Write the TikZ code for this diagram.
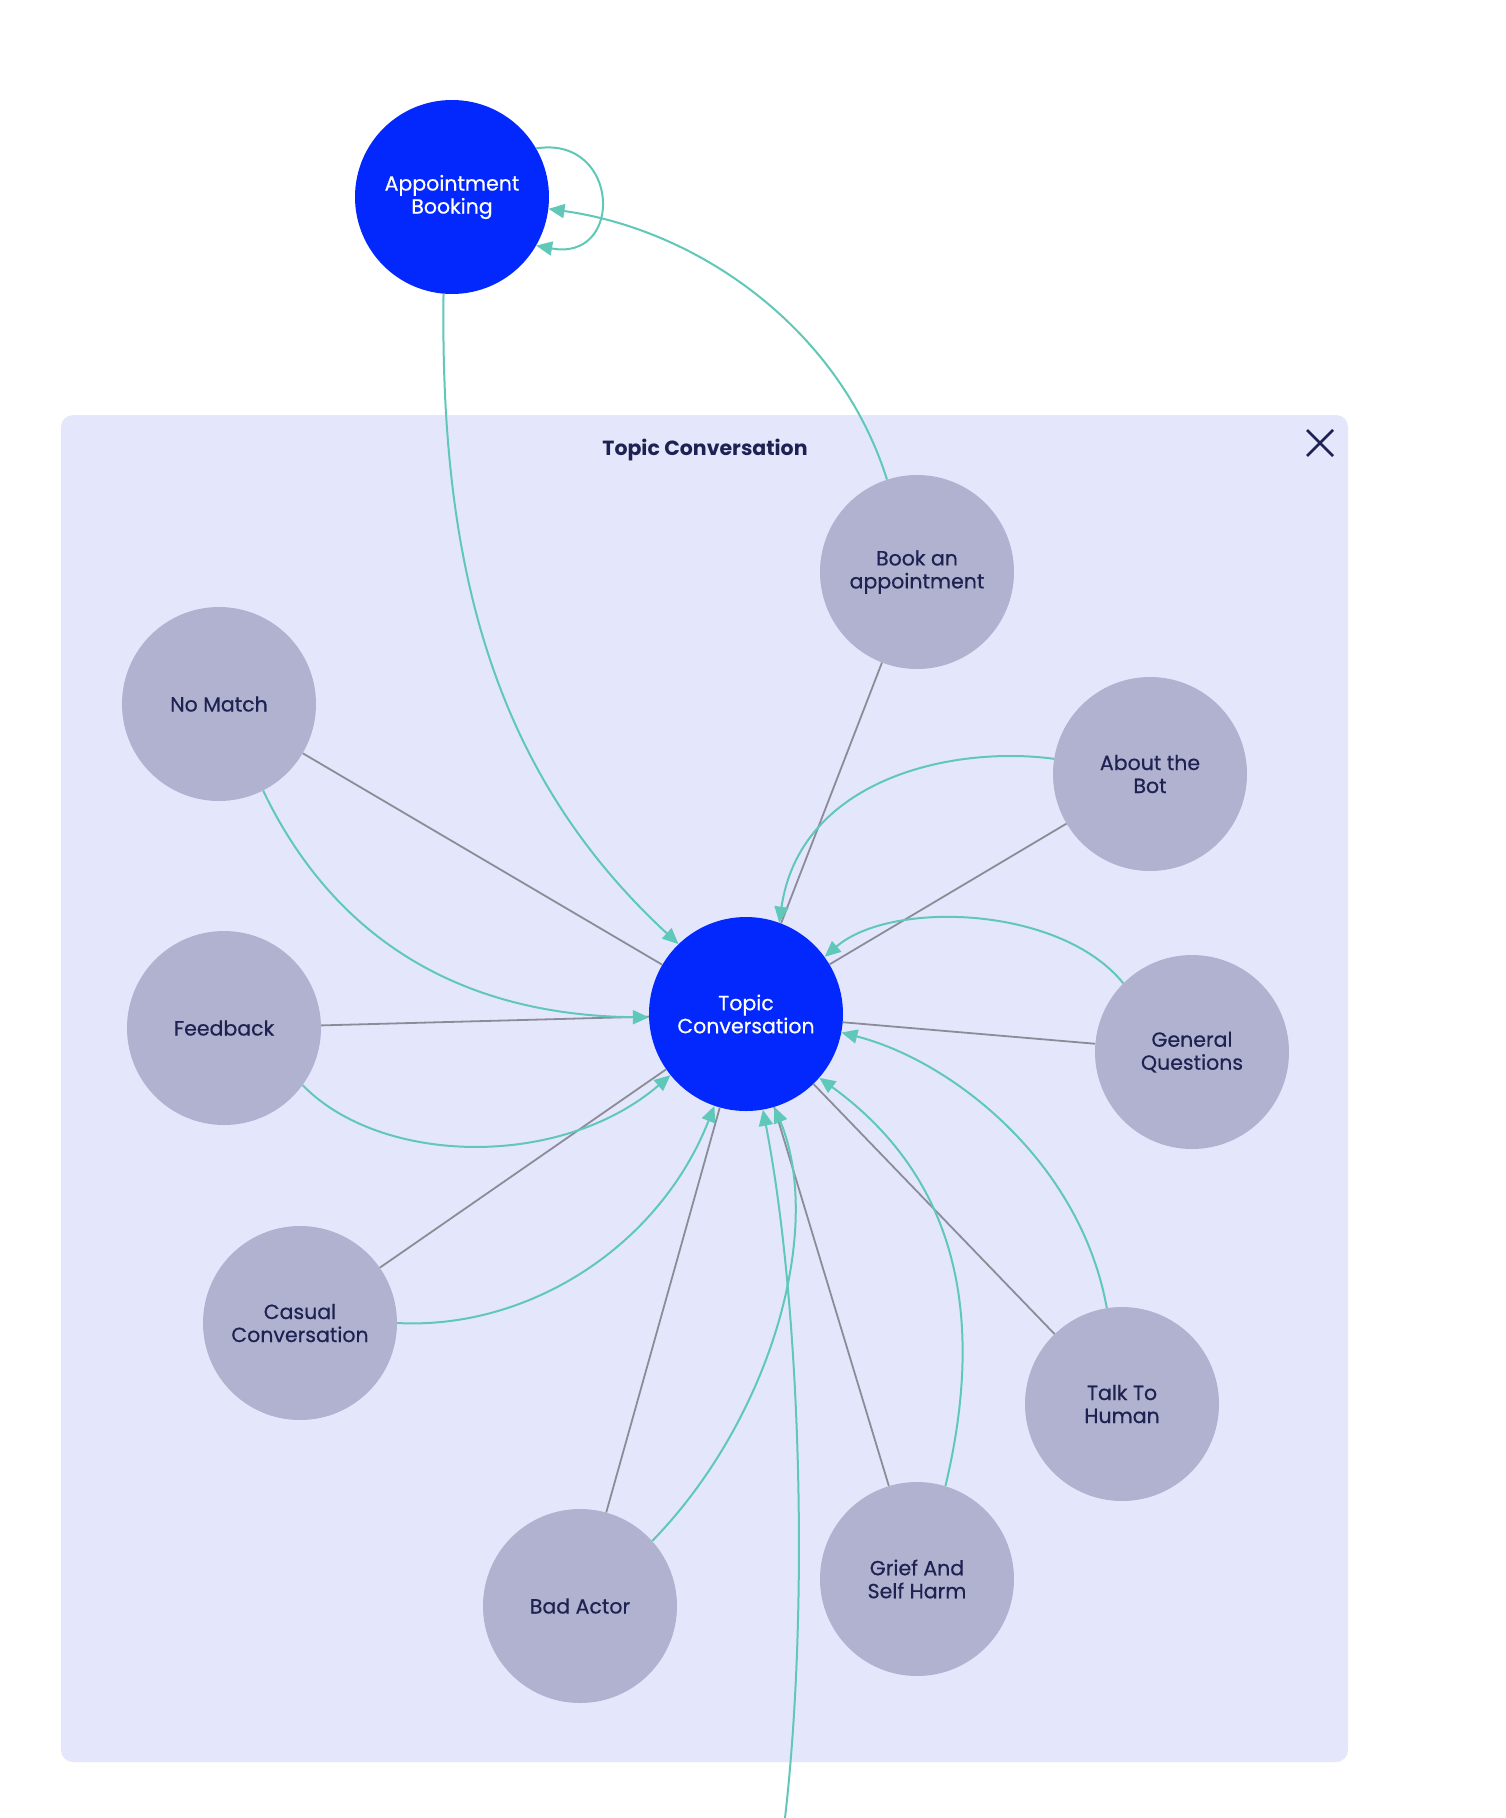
\documentclass[tikz,border=0pt]{standalone}
\usepackage{fontspec}
\setmainfont{Poppins}
\newfontfamily\nodefont{Poppins}[FakeBold=0.5]
\usetikzlibrary{arrows.meta,calc}
\definecolor{nodeblue}{RGB}{2,40,254}
\definecolor{nodegray}{RGB}{176,178,207}
\definecolor{panelbg}{RGB}{228,231,252}
\definecolor{navy}{RGB}{30,34,82}
\definecolor{tealc}{RGB}{95,200,185}
\definecolor{linegray}{RGB}{140,140,150}
\tikzset{
  bignode/.style={circle, minimum size=194pt, inner sep=0pt, align=center,
    font=\nodefont\fontsize{20.5}{23}\selectfont},
  bluenode/.style={bignode, fill=nodeblue, text=white},
  graynode/.style={bignode, fill=nodegray, text=navy},
  grayline/.style={draw=linegray, line width=1.8pt},
  tealarrow/.style={draw=tealc, line width=2pt, -{Triangle[length=16pt,width=14pt]}, tealc},
}
\begin{document}
\begin{tikzpicture}[x=1pt,y=-1pt]
\useasboundingbox (0,0) rectangle (1506,1818);
\fill[white] (0,0) rectangle (1506,1818);
% panel
\fill[panelbg, rounded corners=12pt] (61,415) rectangle (1348,1762);
\node[font=\fontsize{20.5}{23}\selectfont\bfseries, text=navy] (title) at (705,450) {Topic Conversation};
\coordinate (xc) at (1320,443);
\draw[navy, line width=2.6pt] ($(xc)+(-13,-13)$) -- ($(xc)+(13,13)$) ($(xc)+(13,-13)$) -- ($(xc)+(-13,13)$);
% nodes
\node[bluenode] (AB) at (452,197) {Appointment\\Booking};
\node[bluenode] (TC) at (746,1014) {Topic\\Conversation};
\node[graynode] (Book) at (917,572) {Book an\\appointment};
\node[graynode] (NoMatch) at (219,704) {No Match};
\node[graynode] (About) at (1150,774) {About the\\Bot};
\node[graynode] (Feedback) at (224,1028) {Feedback};
\node[graynode] (GenQ) at (1192,1052) {General\\Questions};
\node[graynode] (Casual) at (300,1323) {Casual\\Conversation};
\node[graynode] (Talk) at (1122,1404) {Talk To\\Human};
\node[graynode] (Grief) at (917,1579) {Grief And\\Self Harm};
\node[graynode] (Bad) at (580,1606) {Bad Actor};
\coordinate (ext) at (785,1818);
% gray lines
\foreach \n in {Book,NoMatch,About,Feedback,GenQ,Casual,Talk,Grief,Bad}
  \draw[grayline] (\n) -- (TC);
% teal arrows
\draw[tealarrow] (AB.265) .. controls (440,560) and (490,770) .. (TC.134);
\draw[tealarrow] (Book.108) .. controls (840,330) and (700,230) .. (AB.-7);
\draw[tealarrow] (AB.30) .. controls (620,135) and (625,262) .. (AB.-30);
\draw[tealarrow] (About.171) .. controls (950,745) and (800,780) .. (TC.70);
\draw[tealarrow] (GenQ.135) .. controls (1060,905) and (890,900) .. (TC.36);
\draw[tealarrow] (NoMatch.-63) .. controls (330,930) and (450,1015) .. (TC.182);
\draw[tealarrow] (Feedback.-36) .. controls (380,1165) and (560,1170) .. (TC.219);
\draw[tealarrow] (Casual.0) .. controls (530,1330) and (660,1245) .. (TC.251);
\draw[tealarrow] (Bad.42) .. controls (770,1420) and (825,1230) .. (TC.287);
\draw[tealarrow] (ext) .. controls (810,1600) and (800,1300) .. (TC.280);
\draw[tealarrow] (Talk.99) .. controls (1080,1160) and (950,1060) .. (TC.349);
\draw[tealarrow] (Grief.73) .. controls (985,1320) and (960,1180) .. (TC.319);
\end{tikzpicture}
\end{document}
